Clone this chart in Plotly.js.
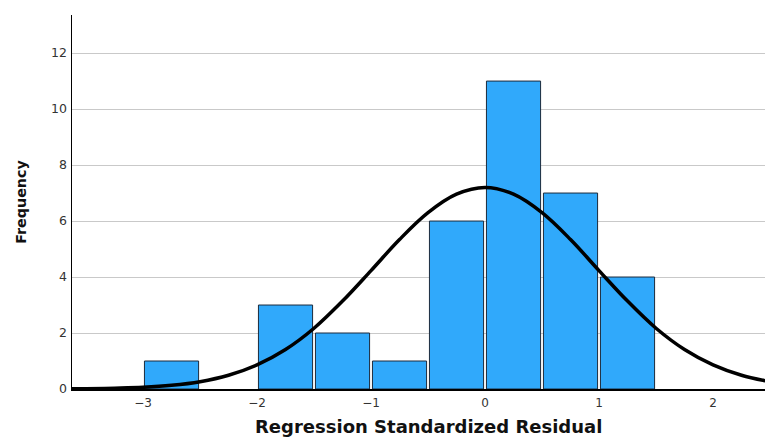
<!DOCTYPE html>
<html>
<head>
<meta charset="utf-8">
<script src="https://cdn.plot.ly/plotly-3.0.1.min.js"></script>
<style>html,body{margin:0;padding:0;background:#fff;}#chart{width:765px;height:437px;}</style>
</head>
<body>
<div id="chart"></div>
<script>
// Histogram bins (centres of 0.5-wide bins) and frequencies
const binCenters = [-2.75, -1.75, -1.25, -0.75, -0.25, 0.25, 0.75, 1.25];
const frequencies = [1, 3, 2, 1, 6, 11, 7, 4];

// Normal curve
const curveX = [-3.65, -3.5, -3.25, -3.0, -2.75, -2.5, -2.25, -2.0, -1.75, -1.5, -1.25, -1.0, -0.75, -0.5, -0.25, 0.0, 0.25, 0.5, 0.75, 1.0, 1.25, 1.5, 1.75, 2.0, 2.25, 2.5];
const curveY = [0.01, 0.01, 0.03, 0.06, 0.13, 0.26, 0.49, 0.86, 1.41, 2.17, 3.14, 4.23, 5.34, 6.30, 6.96, 7.2, 6.96, 6.30, 5.34, 4.23, 3.14, 2.17, 1.41, 0.86, 0.49, 0.26];

const yTicks = [0, 2, 4, 6, 8, 10, 12];
const xTicks = [-3, -2, -1, 0, 1, 2];
const xTickLabels = ['\u22123', '\u22122', '\u22121', '0', '1', '2'];
const xTitle = 'Regression Standardized Residual';
const yTitle = 'Frequency';

const traces = [
  {
    type: 'bar', x: binCenters, y: frequencies, width: 0.475,
    marker: {color: '#30A9FB', line: {color: '#1c2b3c', width: 1}},
    hoverinfo: 'skip'
  },
  {
    type: 'scatter', mode: 'lines', x: curveX, y: curveY,
    line: {color: '#000000', width: 3.5, shape: 'spline', smoothing: 1},
    hoverinfo: 'skip'
  }
];

const layout = {
  width: 765, height: 437,
  margin: {l: 72, r: 0, t: 15, b: 48},
  paper_bgcolor: '#ffffff', plot_bgcolor: '#ffffff',
  showlegend: false,
  font: {family: 'DejaVu Sans, sans-serif', color: '#222'},
  xaxis: {
    range: [-3.623, 2.456],
    tickvals: xTicks, ticktext: xTickLabels,
    tickfont: {size: 12, color: '#333'},
    showgrid: false, zeroline: false,
    showline: true, linecolor: '#000', linewidth: 1.5,
    ticks: '', ticklen: 0, ticklabelstandoff: 2
  },
  yaxis: {
    range: [0, 13.36],
    tickvals: yTicks,
    tickfont: {size: 12.5, color: '#333'},
    showgrid: true, gridcolor: '#c9c9c9', gridwidth: 1,
    zeroline: false,
    showline: true, linecolor: '#000', linewidth: 1.5,
    ticks: '', ticklen: 0, ticklabelstandoff: 1,
    title: {text: yTitle, font: {size: 14.3, color: '#111', weight: 'bold'}, standoff: 21}
  },
  annotations: [{
    text: xTitle, xref: 'paper', yref: 'paper',
    x: 0.515, y: -0.099, xanchor: 'center', yanchor: 'middle',
    showarrow: false,
    font: {size: 18, color: '#111', weight: 'bold'}
  }],
  bargap: 0
};

Plotly.newPlot('chart', traces, layout, {staticPlot: true, displayModeBar: false});
</script>
</body>
</html>
